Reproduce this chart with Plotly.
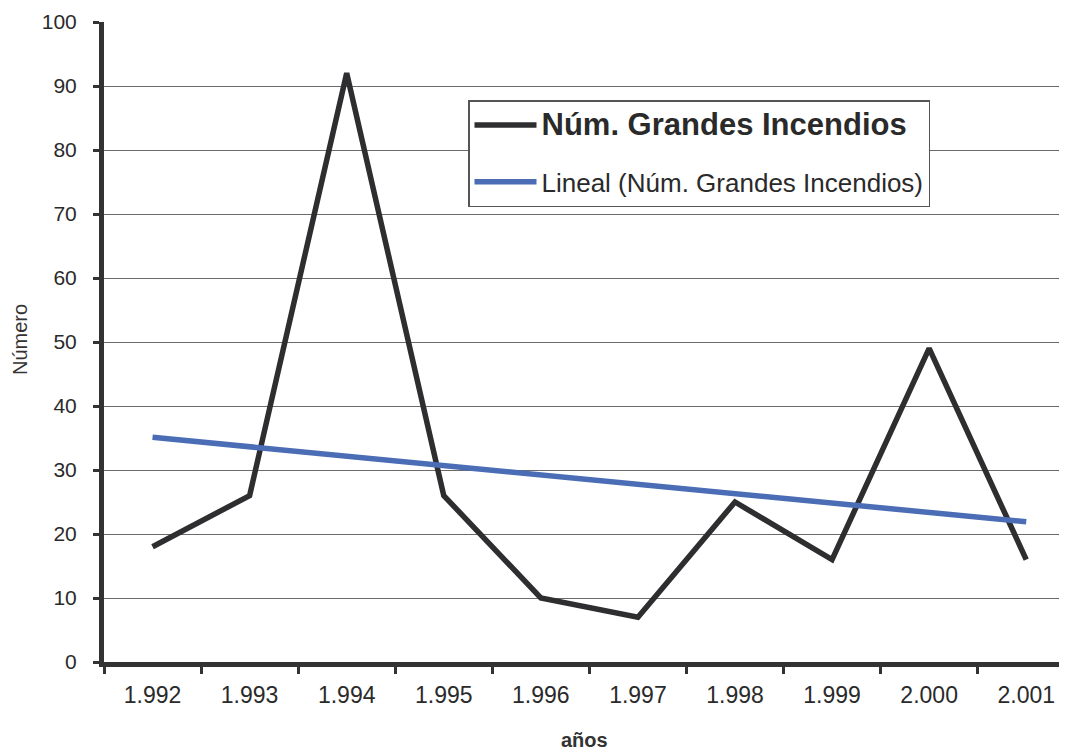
import plotly.graph_objects as go

years = ["1.992", "1.993", "1.994", "1.995", "1.996", "1.997", "1.998", "1.999", "2.000", "2.001"]
incendios = [18, 26, 92, 26, 10, 7, 25, 16, 49, 16]
trend_start = 35.1
trend_end = 21.9
y_ticks = [0, 10, 20, 30, 40, 50, 60, 70, 80, 90, 100]

# page body has an 8px margin, so the figure is offset by (8, 8)
OFF = 8
L, T, B = 104 - OFF, 22 - OFF, 88
W, H = 1067 - OFF, 750 - OFF
PW, PH = W - L, H - T - B  # 963 x 640

def px_x(px):
    return (px - 104) / PW

def px_y(py):
    return (662 - py) / PH

fig = go.Figure()
fig.add_trace(go.Scatter(
    x=years, y=incendios, mode="lines",
    line=dict(color="#2e2e30", width=5.5),
    legendgroup="a",
    name="<b><span style='font-size:31px'>Núm. Grandes Incendios</span></b>",
))
fig.add_trace(go.Scatter(
    x=[years[0], years[-1]], y=[trend_start, trend_end], mode="lines",
    line=dict(color="#4a6db5", width=5.5),
    legendgroup="b",
    name="<span style='font-size:26px'>Lineal (Núm. Grandes Incendios)</span>",
))

fig.update_layout(
    width=W, height=H,
    margin=dict(l=L, r=0, t=T, b=B),
    paper_bgcolor="white", plot_bgcolor="white",
    font=dict(family="Liberation Sans, Arial, sans-serif", color="#2a2a2a"),
    showlegend=True,
    legend=dict(
        x=px_x(468), y=px_y(100), xanchor="left", yanchor="top",
        bgcolor="white", bordercolor="#555555", borderwidth=1.5,
        font=dict(size=26, color="#2a2a2a"),
        itemwidth=62, tracegroupgap=20,
    ),
    xaxis=dict(
        type="category", range=[-0.5, 9.42],
        tickson="boundaries", ticks="outside", ticklen=7, tickwidth=3, tickcolor="#333333",
        showline=True, linecolor="#333333", linewidth=5,
        showgrid=False, zeroline=False,
        tickfont=dict(size=23, color="#2a2a2a"),
        ticklabelstandoff=8,
    ),
    yaxis=dict(
        range=[0, 100], tickvals=y_ticks,
        ticks="outside", ticklen=6, tickwidth=3, tickcolor="#333333",
        showline=True, linecolor="#333333", linewidth=5,
        showgrid=True, gridcolor="#6a6a6a", gridwidth=1.3,
        zeroline=False,
        tickfont=dict(size=21, color="#2a2a2a"),
        ticklabelstandoff=12,
    ),
    annotations=[
        dict(text="<b>años</b>", x=px_x(584), xref="paper", y=px_y(740), yref="paper",
             showarrow=False, font=dict(size=20, color="#333333"),
             xanchor="center", yanchor="middle"),
        dict(text="Número", x=px_x(20), xref="paper", y=px_y(340), yref="paper",
             showarrow=False, textangle=-90, font=dict(size=20, color="#333333"),
             xanchor="center", yanchor="middle"),
    ],
)

fig.write_html("out.html")
